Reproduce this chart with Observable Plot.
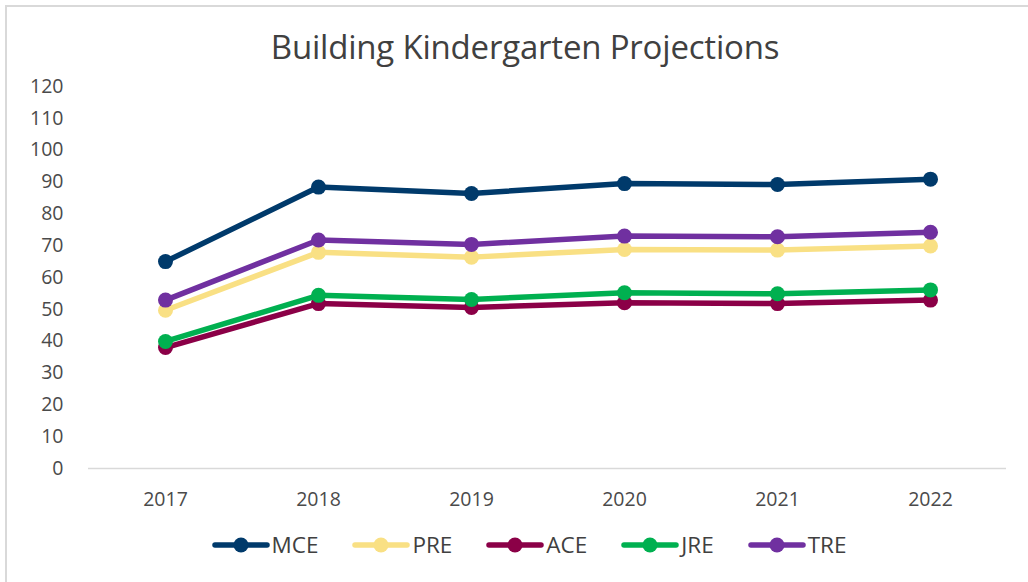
<!DOCTYPE html>
<html>
<head>
<meta charset="utf-8">
<script src="https://cdn.jsdelivr.net/npm/d3@7"></script>
<script src="https://cdn.jsdelivr.net/npm/@observablehq/plot@0.6"></script>
<style>
  html, body { margin: 0; padding: 0; background: #fff; overflow: hidden; }
  #frame { position: absolute; left: 5px; top: 5px; width: 1040px; height: 600px; border: 2px solid #d9d9d9; box-sizing: border-box; }
  #wrap { position: absolute; left: 0; top: 0; width: 1028px; height: 582px; font-family: "Open Sans", sans-serif; }
  #title { position: absolute; left: 0; top: 30px; width: 1050px; text-align: center; font-size: 33px; line-height: 33px; color: #404040; letter-spacing: -0.2px; }
  #chart { position: absolute; left: 0; top: 70px; }
  #legend { position: absolute; left: 0; top: 531px; width: 1058px; display: flex; justify-content: center; font-size: 22.5px; line-height: 28px; color: #404040; }
  .item { display: flex; align-items: center; margin: 0 17px; }
  .item svg { margin-right: 2px; }
</style>
</head>
<body>
<div id="frame"></div>
<div id="wrap">
  <div id="title">Building Kindergarten Projections</div>
  <div id="chart"></div>
  <div id="legend"></div>
</div>
<script>
const years = ["2017", "2018", "2019", "2020", "2021", "2022"];
const seriesNames = ["MCE", "PRE", "ACE", "JRE", "TRE"];
const MCE = [65, 88.4, 86.4, 89.5, 89.2, 90.9];
const PRE = [49.7, 67.9, 66.4, 68.8, 68.6, 69.9];
const ACE = [38.0, 51.8, 50.6, 52.1, 51.8, 52.9];
const JRE = [39.9, 54.4, 53.1, 55.2, 54.9, 56.1];
const TRE = [52.9, 71.8, 70.4, 73.0, 72.8, 74.2];
const colors = ["#003A6B", "#F9E084", "#8B0047", "#00B050", "#7030A0"];
const yTicks = [0, 10, 20, 30, 40, 50, 60, 70, 80, 90, 100, 110, 120];

const valuesBySeries = { MCE, PRE, ACE, JRE, TRE };
const data = seriesNames.flatMap(s => years.map((y, i) => ({ series: s, year: y, value: valuesBySeries[s][i] })));

const plot = Plot.plot({
  width: 1028,
  height: 448,
  marginLeft: 88,
  marginRight: 22,
  marginTop: 16,
  marginBottom: 50,
  style: { fontFamily: "Open Sans, sans-serif", fontSize: "19.5px", color: "#4a4a4a", background: "transparent" },
  x: { type: "point", domain: years, padding: 0.5, label: null, tickSize: 0, tickPadding: 24 },
  y: { domain: [0, 120], ticks: yTicks, label: null, tickSize: 0, tickPadding: 25, tickFormat: d => String(d) },
  color: { domain: seriesNames, range: colors },
  marks: [
    Plot.ruleY([0], { stroke: "#d9d9d9", strokeWidth: 1.5 }),
    ...seriesNames.flatMap(s => {
      const sub = data.filter(d => d.series === s);
      return [
        Plot.line(sub, { x: "year", y: "value", stroke: "series", strokeWidth: 5.5, strokeLinecap: "round", strokeLinejoin: "round" }),
        Plot.dot(sub, { x: "year", y: "value", fill: "series", r: 7.5 })
      ];
    })
  ]
});
document.getElementById("chart").appendChild(plot);

const legend = document.getElementById("legend");
seriesNames.forEach((s, i) => {
  const item = document.createElement("div");
  item.className = "item";
  item.innerHTML = `<svg width="58" height="20"><line x1="3" y1="10" x2="55" y2="10" stroke="${colors[i]}" stroke-width="5.5" stroke-linecap="round"/><circle cx="29" cy="10" r="7.5" fill="${colors[i]}"/></svg><span>${s}</span>`;
  legend.appendChild(item);
});
</script>
</body>
</html>
